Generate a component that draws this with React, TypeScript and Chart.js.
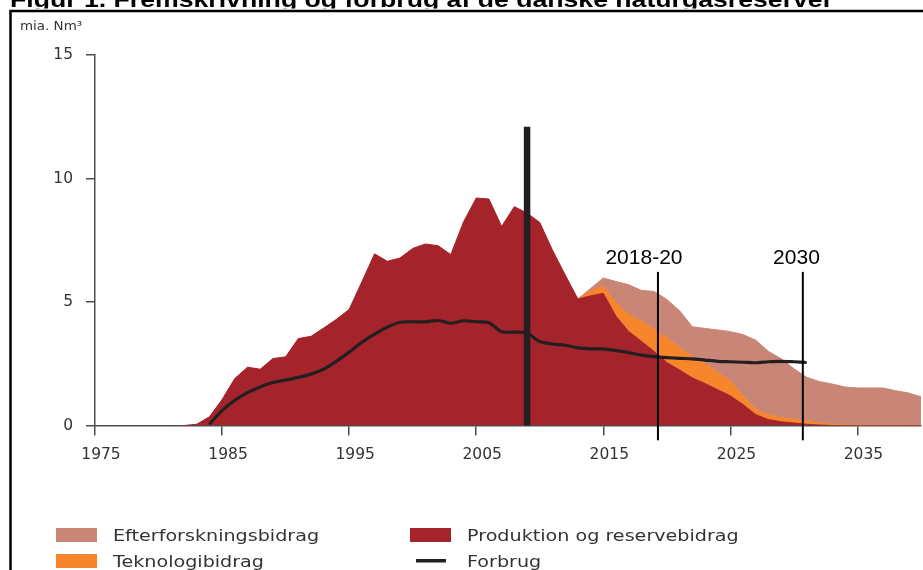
import React, { useEffect, useRef } from "react";
import { Chart, registerables } from "chart.js";

Chart.register(...registerables);

const TITLE = "Figur 1. Fremskrivning og forbrug af de danske naturgasreserver";
const UNIT = "mia. Nm³";

const productionYears = [
  1982, 1983, 1984, 1985, 1986, 1987, 1988, 1989, 1990, 1991,
  1992, 1993, 1994, 1995, 1996, 1997, 1998, 1999, 2000, 2001,
  2002, 2003, 2004, 2005, 2006, 2007, 2008, 2009, 2010, 2011,
  2012, 2013, 2014, 2015, 2016, 2017, 2018, 2019, 2020, 2021,
  2022, 2023, 2024, 2025, 2026, 2027, 2028, 2029, 2030, 2031,
  2032, 2033, 2034, 2035, 2036, 2037, 2038, 2039, 2040,
];
const produktion = [
  0, 0.05, 0.35, 1.05, 1.9, 2.36, 2.28, 2.71, 2.78, 3.52,
  3.61, 3.95, 4.3, 4.7, 5.82, 6.95, 6.65, 6.78, 7.17, 7.35,
  7.28, 6.92, 8.24, 9.21, 9.17, 8.06, 8.86, 8.6, 8.22, 7.1,
  6.1, 5.12, 5.25, 5.35, 4.42, 3.81, 3.41, 3.0, 2.55, 2.25,
  1.93, 1.7, 1.45, 1.2, 0.85, 0.44, 0.24, 0.15, 0.1, 0.05,
  0.02, 0, 0, 0, 0, 0, 0, 0, 0,
];

const futureYears = [
  2013, 2014, 2015, 2016, 2017, 2018, 2019, 2020, 2021, 2022,
  2023, 2024, 2025, 2026, 2027, 2028, 2029, 2030, 2031, 2032,
  2033, 2034, 2035, 2036, 2037, 2038, 2039, 2040,
];
const teknologi = [
  0, 0.2, 0.28, 0.54, 0.68, 0.81, 0.9, 1.0, 0.9, 0.87,
  0.8, 0.7, 0.6, 0.33, 0.21, 0.2, 0.17, 0.15, 0.12, 0.08,
  0.05, 0.02, 0, 0, 0, 0, 0, 0,
];
const efterforskning = [
  0, 0.1, 0.34, 0.87, 1.21, 1.25, 1.53, 1.55, 1.5, 1.2,
  1.43, 1.72, 2.0, 2.5, 2.8, 2.56, 2.38, 2.05, 1.78, 1.68,
  1.63, 1.54, 1.52, 1.52, 1.52, 1.41, 1.32, 1.16,
];

const forbrugYears = [
  1984, 1985, 1986, 1987, 1988, 1989, 1990, 1991, 1992, 1993,
  1994, 1995, 1996, 1997, 1998, 1999, 2000, 2001, 2002, 2003,
  2004, 2005, 2006, 2007, 2008, 2009, 2010, 2011, 2012, 2013,
  2014, 2015, 2016, 2017, 2018, 2019, 2020, 2021, 2022, 2023,
  2024, 2025, 2026, 2027, 2028, 2029, 2030, 2031,
];
const forbrug = [
  0.05, 0.6, 1.02, 1.33, 1.56, 1.74, 1.84, 1.95, 2.08, 2.28,
  2.6, 2.97, 3.37, 3.7, 3.98, 4.18, 4.2, 4.2, 4.25, 4.14,
  4.24, 4.2, 4.16, 3.8, 3.78, 3.74, 3.4, 3.3, 3.25, 3.14,
  3.1, 3.1, 3.03, 2.95, 2.85, 2.79, 2.75, 2.72, 2.7, 2.65,
  2.6, 2.58, 2.56, 2.54, 2.58, 2.6, 2.58, 2.55,
];

const xTickYears = [1975, 1985, 1995, 2005, 2015, 2025, 2035];

// vertical marker lines: position (year), top and bottom (value units)
const markerYears = [2009, 2019.3, 2030.7];
const markerTops = [12.1, 6.22, 6.22];
const markerBottoms = [0, -0.6, -0.6];
const markerWidths = [6.5, 2, 2];
const markerLabels = ["", "2018-20", "2030"];
const markerLabelYears = [0, 2018.2, 2030.2];
const markerLabelValue = 6.77;

const COLORS = {
  produktion: "#A5232B",
  teknologi: "#F6852B",
  efterforskning: "#C98677",
  forbrug: "#231F20",
};

const toPoints = (xs: number[], ys: number[]) => xs.map((x, i) => ({ x, y: ys[i] }));

const decorPlugin = {
  id: "decor",
  afterDatasetsDraw(chart: any) {
    const { ctx } = chart;
    const x = chart.scales.x;
    const y = chart.scales.y;
    ctx.save();
    markerYears.forEach((yr, i) => {
      const px = x.getPixelForValue(yr);
      ctx.beginPath();
      ctx.lineWidth = markerWidths[i];
      ctx.strokeStyle = i === 0 ? "#231F20" : "#000000";
      ctx.moveTo(px, y.getPixelForValue(markerTops[i]));
      ctx.lineTo(px, y.getPixelForValue(markerBottoms[i]));
      ctx.stroke();
      if (markerLabels[i]) {
        ctx.font = '21px "Liberation Sans", Arial, sans-serif';
        ctx.fillStyle = "#000";
        ctx.textAlign = "center";
        ctx.textBaseline = "middle";
        ctx.fillText(markerLabels[i], x.getPixelForValue(markerLabelYears[i]), y.getPixelForValue(markerLabelValue));
      }
    });
    ctx.restore();
  },
  afterDraw(chart: any) {
    const { ctx } = chart;
    ctx.save();
    // title (clipped at the top of the page)
    ctx.font = 'bold 22px "Liberation Sans", Arial, sans-serif';
    ctx.fillStyle = "#000";
    ctx.textAlign = "left";
    ctx.textBaseline = "alphabetic";
    const tw = ctx.measureText(TITLE).width;
    ctx.save();
    ctx.translate(10, 7);
    ctx.scale(823 / tw, 1);
    ctx.fillText(TITLE, 0, 0);
    ctx.restore();
    // frame
    ctx.fillStyle = "#fff";
    ctx.fillRect(0, 8.5, 923, 2);
    ctx.strokeStyle = "#000";
    ctx.lineWidth = 2.5;
    ctx.beginPath();
    ctx.moveTo(923, 11);
    ctx.lineTo(10.5, 11);
    ctx.lineTo(10.5, 570);
    ctx.stroke();
    // unit
    ctx.font = '12px "DejaVu Sans", sans-serif';
    ctx.fillStyle = "#333";
    ctx.save();
    ctx.translate(20, 29.5);
    ctx.scale(1.12, 1);
    ctx.fillText(UNIT, 0, 0);
    ctx.restore();
    // legend
    const ds = chart.data.datasets;
    const order = [3, 1, 2, 0];
    const colX = [56, 410];
    const rowBase = [541, 567];
    order.forEach((di, k) => {
      const d = ds[di];
      const cx = colX[k % 2];
      const base = rowBase[Math.floor(k / 2)];
      if (d.label === "Forbrug") {
        ctx.fillStyle = d.borderColor;
        ctx.fillRect(cx + 6, base - 8, 30, 3.5);
      } else {
        ctx.fillStyle = d.backgroundColor;
        ctx.fillRect(cx, base - 13, 41, 14);
      }
      ctx.fillStyle = "#333";
      ctx.font = '16.5px "DejaVu Sans", sans-serif';
      ctx.save();
      ctx.translate(cx + 57, base);
      ctx.scale(1.16, 1);
      ctx.fillText(d.label, 0, 0);
      ctx.restore();
    });
    ctx.restore();
  },
};

export default function App() {
  const ref = useRef<HTMLCanvasElement | null>(null);
  useEffect(() => {
    if (!ref.current) return;
    const axisColor = "#4d4d4d";
    const tickFont = { family: '"DejaVu Sans", sans-serif', size: 15.5 };
    const chart = new Chart(ref.current, {
      type: "line",
      data: {
        datasets: [
          {
            label: "Forbrug",
            data: toPoints(forbrugYears, forbrug),
            borderColor: COLORS.forbrug,
            backgroundColor: COLORS.forbrug,
            borderWidth: 3.2,
            pointRadius: 0,
            tension: 0.3,
            fill: false,
            stack: "use",
          },
          {
            label: "Produktion og reservebidrag",
            data: toPoints(productionYears, produktion),
            borderColor: COLORS.produktion,
            backgroundColor: COLORS.produktion,
            borderWidth: 1,
            pointRadius: 0,
            tension: 0,
            fill: "origin",
            stack: "supply",
          },
          {
            label: "Teknologibidrag",
            data: toPoints(futureYears, teknologi),
            borderColor: COLORS.teknologi,
            backgroundColor: COLORS.teknologi,
            borderWidth: 1,
            pointRadius: 0,
            tension: 0,
            fill: "-1",
            stack: "supply",
          },
          {
            label: "Efterforskningsbidrag",
            data: toPoints(futureYears, efterforskning),
            borderColor: COLORS.efterforskning,
            backgroundColor: COLORS.efterforskning,
            borderWidth: 1,
            pointRadius: 0,
            tension: 0,
            fill: "-1",
            stack: "supply",
          },
        ],
      },
      options: {
        animation: false,
        responsive: false,
        devicePixelRatio: 1,
        events: [],
        layout: { padding: { top: 55, right: 2, left: 0, bottom: 0 } },
        plugins: { legend: { display: false }, tooltip: { enabled: false } },
        scales: {
          x: {
            type: "linear",
            min: 1975,
            max: 2040,
            z: 1,
            afterBuildTicks: (s: any) => {
              s.ticks = xTickYears.map((v) => ({ value: v }));
            },
            afterFit: (s: any) => {
              s.height = 144.5;
            },
            grid: { drawOnChartArea: false, drawTicks: true, tickLength: 10, color: axisColor, lineWidth: 1.5 },
            border: { display: true, color: axisColor, width: 1.5 },
            ticks: {
              font: tickFont,
              color: "#333",
              padding: 10,
              labelOffset: 6,
              maxRotation: 0,
              autoSkip: false,
              callback: (v: any) => String(v),
            },
          },
          y: {
            type: "linear",
            min: 0,
            max: 15,
            stacked: true,
            z: 1,
            afterFit: (s: any) => {
              s.width = 95;
            },
            grid: { drawOnChartArea: false, drawTicks: true, tickLength: 9, color: axisColor, lineWidth: 1.5 },
            border: { display: true, color: axisColor, width: 1.5 },
            ticks: { stepSize: 5, font: tickFont, color: "#333", padding: 13 },
          },
        },
      },
      plugins: [decorPlugin],
    } as any);
    return () => chart.destroy();
  }, []);
  return (
    <div style={{ position: "fixed", left: 0, top: 0, width: 923, height: 570, background: "#fff" }}>
      <canvas ref={ref} width={923} height={570} style={{ width: 923, height: 570, display: "block" }} />
    </div>
  );
}
